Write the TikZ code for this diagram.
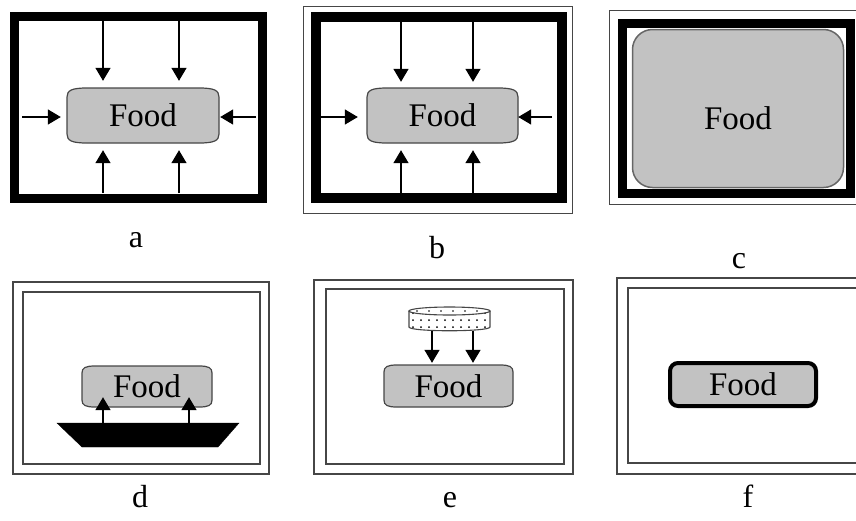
\documentclass[tikz,border=0pt]{standalone}
\usepackage{fontspec}
\setmainfont{Liberation Serif}
\usetikzlibrary{arrows.meta}
\definecolor{foodgray}{RGB}{194,194,194}
\definecolor{edgegray}{RGB}{70,70,70}
% #1 x1, #2 y1, #3 x2, #4 y2, #5 corner width, #6 corner height
\newcommand\foodbg[6]{%
  \draw[edgegray, line width=1.2pt, fill=foodgray]
    (#1+#5,#2) -- (#3-#5,#2)
    .. controls (#3-0.25*#5,#2) and (#3,#2+0.25*#6) .. (#3,#2+#6)
    -- (#3,#4-#6)
    .. controls (#3,#4-0.25*#6) and (#3-0.25*#5,#4) .. (#3-#5,#4)
    -- (#1+#5,#4)
    .. controls (#1+0.25*#5,#4) and (#1,#4-0.25*#6) .. (#1,#4-#6)
    -- (#1,#2+#6)
    .. controls (#1,#2+0.25*#6) and (#1+0.25*#5,#2) .. (#1+#5,#2) -- cycle;}
\begin{document}
\begin{tikzpicture}[x=1pt,y=-1pt,
  thickframe/.style={draw=black,line width=9.5pt},
  thinframe/.style={draw=edgegray,line width=1.4pt},
  foodfont/.style={font=\fontsize{33}{33}\selectfont},
  food/.style={rectangle, inner sep=0pt, foodfont},
  arr/.style={line width=1.5pt, -{Triangle[length=13pt,width=15pt]}},
  lbl/.style={anchor=base, font=\fontsize{32}{32}\selectfont}]
\useasboundingbox (0,0) rectangle (856,520);

% ---------- panel a ----------
\draw[thickframe] (14.5,16.5) rectangle (262.5,198.5);
\foodbg{67}{88}{219}{143}{20}{9}
\node[food, minimum width=152pt, minimum height=55pt] (fa) at (143,115.5) {Food};
\coordinate (a1) at (103,21);
\coordinate (a2) at (179,21);
\coordinate (a3) at (103,193);
\coordinate (a4) at (179,193);
\coordinate (a5) at (22,117);
\coordinate (a6) at (256,117);
\draw[arr, shorten >=7pt] (a1) -- (a1 |- fa.north);
\draw[arr, shorten >=7pt] (a2) -- (a2 |- fa.north);
\draw[arr, shorten >=7pt] (a3) -- (a3 |- fa.south);
\draw[arr, shorten >=7pt] (a4) -- (a4 |- fa.south);
\draw[arr, shorten >=6pt] (a5) -- (a5 -| fa.west);
\draw[arr, shorten >=1pt] (a6) -- (a6 -| fa.east);
\node[lbl] (la) at (136,247) {a};

% ---------- panel b ----------
\draw[thinframe, line width=1pt] (303,6) rectangle (572,213);
\draw[thickframe, line width=10pt] (316,17) rectangle (562,198);
\foodbg{367}{88}{518}{143}{20}{9}
\node[food, minimum width=151pt, minimum height=55pt] (fb) at (442.5,115.5) {Food};
\coordinate (b1) at (401,22);
\coordinate (b2) at (473,22);
\coordinate (b3) at (401,193);
\coordinate (b4) at (473,193);
\coordinate (b5) at (321,117);
\coordinate (b6) at (552,117);
\draw[arr, shorten >=6pt] (b1) -- (b1 |- fb.north);
\draw[arr, shorten >=6pt] (b2) -- (b2 |- fb.north);
\draw[arr, shorten >=7pt] (b3) -- (b3 |- fb.south);
\draw[arr, shorten >=7pt] (b4) -- (b4 |- fb.south);
\draw[arr, shorten >=9pt] (b5) -- (b5 -| fb.west);
\draw[arr, shorten >=0pt] (b6) -- (b6 -| fb.east);
\node[lbl] (lb) at (437,258) {b};

% ---------- panel c ----------
\draw[thinframe, line width=1pt] (856,10) -- (609,10) -- (609,204) -- (856,204);
\draw[thickframe, line width=9pt] (622.5,23.5) rectangle (850.5,193.5);
\node[draw=black!60, line width=1.5pt, fill=foodgray, rounded corners=20pt,
      minimum width=211pt, minimum height=158pt, inner sep=0pt,
      label={[foodfont, yshift=-10pt]center:Food}] (fc) at (738,108.5) {};
\node[lbl] (lc) at (739,268) {c};

% ---------- panel d ----------
\draw[thinframe] (13,282) rectangle (269,474);
\draw[thinframe] (23,292) rectangle (260,464);
\foodbg{82}{366}{212}{407}{13}{7}
\node[food, minimum width=130pt, minimum height=41pt] (fd) at (147,386.5) {Food};
\draw[fill=black, draw=black] (57,423) -- (239,423) -- (218,447) -- (82,447) -- cycle;
\coordinate (d1) at (103,423);
\coordinate (d2) at (189,423);
\draw[arr, shorten >=-10pt] (d1) -- (d1 |- fd.south);
\draw[arr, shorten >=-10pt] (d2) -- (d2 |- fd.south);
\node[lbl] (ld) at (140,507) {d};

% ---------- panel e ----------
\draw[thinframe] (314,280) rectangle (573,474);
\draw[thinframe] (326,289) rectangle (564,464);
\node[minimum width=81pt, minimum height=24pt, inner sep=0pt] (disk) at (449.5,319) {};
\fill[white] (409,311) -- (409,327) .. controls (409,332) and (490,332) .. (490,327) -- (490,311) -- cycle;
\foreach \yy in {313,320,327}{
  \foreach \xx in {413,421,...,487}{
    \fill (\xx,\yy) circle (1pt);
  }
}
\draw[edgegray, line width=1.1pt] (409,311) -- (409,327) .. controls (409,332) and (490,332) .. (490,327) -- (490,311);
\draw[edgegray, line width=1.1pt, fill=white] (449.5,311) ellipse [x radius=40.5pt, y radius=4pt];
\foreach \xx in {417,429,...,485}{
  \fill (\xx,311) circle (0.9pt);
}
\foodbg{384}{365}{513}{407}{13}{7}
\node[food, minimum width=129pt, minimum height=42pt] (fe) at (448.5,386) {Food};
\coordinate (e1) at (432,331);
\coordinate (e2) at (473,331);
\draw[arr, shorten >=2pt] (e1) -- (e1 |- fe.north);
\draw[arr, shorten >=2pt] (e2) -- (e2 |- fe.north);
\node[lbl] (le) at (450,507) {e};

% ---------- panel f ----------
\draw[thinframe] (856,278) -- (617,278) -- (617,474) -- (856,474);
\draw[thinframe] (856,288) -- (628,288) -- (628,463) -- (856,463);
\node[draw=black, line width=4pt, fill=foodgray, rounded corners=8pt,
      minimum width=146pt, minimum height=43pt, inner sep=0pt, foodfont] (ff) at (743,384.5) {Food};
\node[lbl] (lf) at (748,507) {f};
\end{tikzpicture}
\end{document}
